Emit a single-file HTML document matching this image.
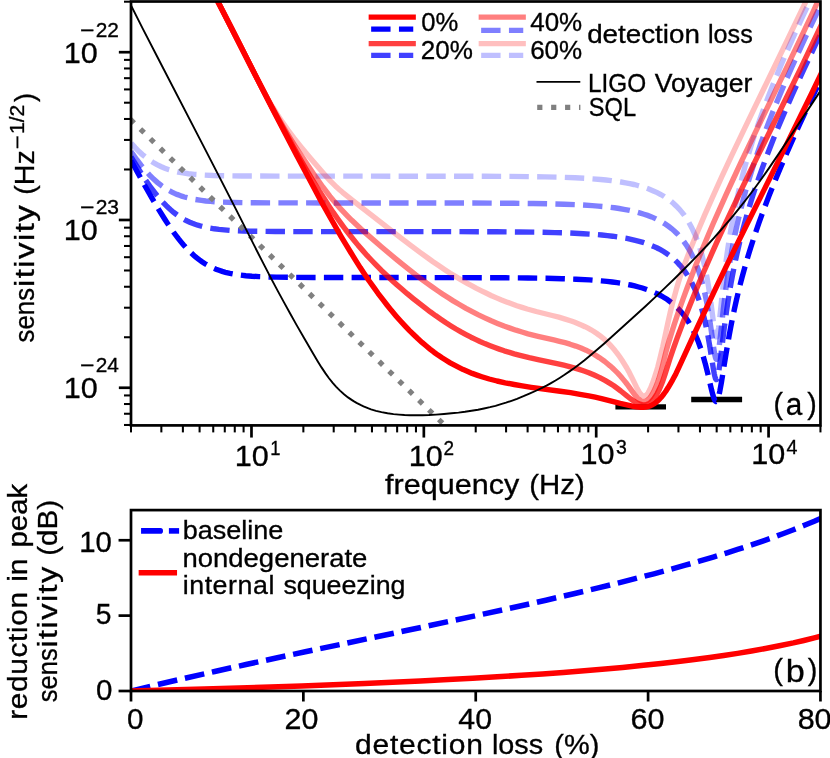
<!DOCTYPE html>
<html><head><meta charset="utf-8"><title>figure</title>
<style>
html,body{margin:0;padding:0;background:#fff;}
body{width:830px;height:758px;overflow:hidden;font-family:"Liberation Sans",sans-serif;}
svg{display:block;will-change:transform;}
text{font-family:"Liberation Sans",sans-serif;fill:#000;stroke:#000;stroke-width:0.32px;}
</style></head><body>
<svg width="830" height="758" viewBox="0 0 830 758">
<rect x="0" y="0" width="830" height="758" fill="#ffffff"/>
<defs><clipPath id="ca"><rect x="131.00" y="1.50" width="689.45" height="423.90"/></clipPath>
<clipPath id="cb"><rect x="131.00" y="510.10" width="689.45" height="180.90"/></clipPath></defs>
<g clip-path="url(#ca)" fill="none">
<path d="M615.4,406.9 H666" stroke="#000" stroke-width="5.4"/>
<path d="M691.2,399.5 H742.1" stroke="#000" stroke-width="5.6"/>
<path id="b0" d="M128,154.6 137.2,171.7 145.2,186.3 152.4,198.9 158.8,209.7 164.8,219.3 167.8,223.9 170.6,228 173.4,232 176,235.5 178.6,238.9 181.2,242.1 183.8,245.2 186.4,248.1 189,250.8 191.6,253.3 194.2,255.7 196.8,257.9 199.4,259.9 202,261.8 204.6,263.5 207.4,265.1 210.2,266.6 213,267.9 216,269.2 219,270.3 222.2,271.4 225.4,272.3 230,273.3 234.8,274.2 240,275 245.8,275.7 252,276.2 259,276.6 267,276.9 276.2,277.1 292,277.3 313.6,277.5 451.2,277.6 505.8,277.8 528,278 546.4,278.3 562.2,278.7 576,279.2 589.4,279.9 601.4,280.9 607,281.4 612.2,282 617.2,282.7 621.8,283.4 626.4,284.2 630.6,285 634.6,285.9 638.6,287 642.4,288 646,289.2 649.4,290.4 652.8,291.8 655.8,293.1 658.8,294.5 661.6,296 664.4,297.7 667,299.3 669.6,301.2 672,303 674.4,305.1 676.6,307.1 678.8,309.3 681,311.7 683,314.1 685,316.7 686.8,319.3 688.6,322 690.4,325 691.8,327.5 693.2,330.2 694.6,333.1 696,336.2 698.4,342 700.8,348.7 703.2,356.2 705.6,364.9 707.8,373.7 711.6,390 713,395.4 714,398.4 714.8,400.2 715.2,400.8 715.6,401.2 716,401.4 716.2,401.3 716.6,401.1 717,400.7 717.4,400 718,398.5 718.8,395.8 719.8,391.3 721.4,382.5 726.2,352.7 729.2,335.4 730.8,326.8 732.6,317.7 734.4,309.1 736.4,300.2 738.2,292.5 740,285.2 742,277.5 744,270.2 746.2,262.4 748.4,255 750.8,247.2 753.2,239.8 756,231.4 759,222.7 762.2,213.8 765.6,204.7 769.2,195.3 773,185.8 776.8,176.4 781,166.4 785.2,156.6 789.8,146.1 794.6,135.4 799.8,123.9 810.8,100.3 823.4,74" stroke="#0000ff" stroke-opacity="1.00" stroke-width="5.40" stroke-dasharray="19.40 8.30" stroke-dashoffset="-6.60"/>
<path id="b20" d="M128,151.6 134,161.8 139.6,170.8 144.8,178.8 149.8,186 154.6,192.4 157,195.5 159.2,198.1 161.6,200.8 163.8,203.2 166.2,205.7 168.4,207.8 170.6,209.8 173,211.8 175.2,213.5 177.6,215.3 180,216.9 182.4,218.4 184.8,219.8 187.2,221 189.8,222.2 192.4,223.3 195,224.3 197.8,225.2 200.6,226 203.6,226.8 206.6,227.5 209.8,228.1 214.2,228.8 219,229.4 224.2,229.9 229.8,230.4 236,230.7 242.8,231 250.6,231.2 259.6,231.3 275.2,231.5 296.6,231.6 439.6,231.6 496.4,231.8 519.4,232 538.4,232.2 554.8,232.6 569,233 583.4,233.7 596,234.5 601.8,235 607.4,235.6 612.6,236.2 617.6,236.9 622.4,237.7 626.8,238.4 631,239.3 635.2,240.3 639.2,241.3 643,242.4 646.6,243.6 650,244.9 653.6,246.4 657.2,248 660.4,249.7 663.6,251.5 666.6,253.5 669.6,255.6 672.4,257.8 675,260.1 677.6,262.7 680,265.3 682.4,268.1 684.6,271 686.8,274.2 688.8,277.4 690.8,280.9 692.6,284.4 694.2,287.8 695.8,291.5 697.2,295.1 698.6,298.9 700,303.1 701.4,307.6 702.6,311.9 703.8,316.5 705,321.5 706,326.1 707.2,331.9 708.2,337.2 710,347.7 713.2,367.9 714.2,373.5 714.8,376.2 715.4,378.3 715.8,379.1 716,379.4 716.2,379.6 716.4,379.6 716.6,379.5 716.8,379.3 717,379 717.6,377.4 718.2,374.8 718.8,371.3 720.2,361.1 724.2,328.3 726.4,312 727.8,302.6 729.4,292.6 731,283.3 732.6,274.7 734.4,265.6 736.2,257.1 738.2,248.3 740.2,239.9 742.4,231.3 744.6,223.1 747,214.6 749.6,205.9 752.6,196.3 755.6,187.1 758.8,177.8 762.2,168.3 765.8,158.6 769.6,148.7 773.6,138.6 778,127.8 782.6,116.9 787.4,105.8 792.4,94.5 797.8,82.5 803.6,69.9 809.8,56.6 816.4,42.7 823.4,28.2" stroke="#0000ff" stroke-opacity="0.75" stroke-width="5.40" stroke-dasharray="19.40 8.30" stroke-dashoffset="-6.00"/>
<path id="b40" d="M128,147 132.6,153.9 137,160 141.2,165.5 145.4,170.5 149.6,175.1 153.6,179.1 157.6,182.6 159.6,184.2 161.8,185.9 163.8,187.3 166,188.7 168,190 170.2,191.2 172.4,192.3 174.6,193.4 177,194.4 179.4,195.3 181.8,196.2 184.4,197 189.6,198.3 195.2,199.5 201.4,200.4 205.8,201 210.4,201.4 215.4,201.8 221,202.1 233.8,202.5 250,202.8 286.4,202.9 432.4,203 490.2,203.1 513.8,203.3 533.2,203.5 549.8,203.8 564.2,204.2 579.2,204.8 592.2,205.6 598.2,206.1 604,206.6 609.4,207.2 614.4,207.8 619.2,208.5 623.8,209.3 628.2,210.1 632.4,211 636.4,212 640.4,213.1 644,214.2 647.6,215.4 651.6,216.9 655.4,218.6 659,220.4 662.4,222.2 665.6,224.2 668.8,226.5 671.8,228.8 674.6,231.2 677.2,233.7 679.8,236.5 682.2,239.4 684.6,242.6 686.8,245.8 689,249.4 691,253 693,256.9 694.8,260.9 696.4,264.8 698,269.1 699.4,273.2 700.8,277.7 702.2,282.6 703.4,287.2 704.6,292.3 705.8,297.8 706.8,302.8 708.8,314.1 710.6,325.9 713.6,347.4 714.6,353.7 715.2,356.6 715.6,358 716,358.9 716.2,359.2 716.4,359.3 716.6,359.3 716.8,359.1 717,358.7 717.4,357.6 718,354.8 718.6,351.1 719.8,341.4 723.4,308.7 725.6,290.9 727,280.7 728.4,271.3 730,261.3 731.6,252.1 733.2,243.6 735,234.6 737,225.3 739,216.6 741.2,207.6 743.4,199.1 745.8,190.4 748.4,181.4 751.4,171.6 754.4,162.2 757.8,152.1 761.2,142.5 764.8,132.7 768.8,122.1 772.8,112 777.2,101.2 781.8,90.2 786.6,79 791.8,67.2 797.4,54.8 803.2,42.1 809.6,28.4 816.2,14.5 823.4,-0.4" stroke="#0000ff" stroke-opacity="0.50" stroke-width="5.40" stroke-dasharray="19.40 8.30" stroke-dashoffset="-5.35"/>
<path id="b60" d="M128,139.4 131.6,143.7 135.2,147.6 138.8,151.3 142.4,154.6 146,157.5 149.6,160.2 153.2,162.5 157,164.7 160.8,166.5 164.8,168.2 169,169.7 173.4,170.9 178,172 183,172.9 188.4,173.7 194.4,174.4 203.2,175 213.4,175.5 225.8,175.8 241.4,176 276.8,176.1 425.6,176.2 484.6,176.3 508.6,176.4 528.4,176.6 545.2,176.9 559.8,177.2 575.2,177.8 588.6,178.5 600.6,179.5 606,180 611.2,180.6 616.2,181.3 621,182 625.6,182.8 629.8,183.6 633.8,184.5 637.8,185.5 641.6,186.6 645.2,187.7 649.4,189.2 653.4,190.9 657.2,192.6 660.8,194.5 664.2,196.5 667.6,198.8 670.6,201 673.6,203.5 676.4,206.2 679.2,209.1 681.8,212.1 684.2,215.2 686.6,218.7 688.8,222.3 690.8,225.9 692.8,229.8 694.6,233.8 696.2,237.6 697.8,241.9 699.2,246 700.6,250.4 702,255.3 703.4,260.8 704.6,265.9 705.8,271.5 706.8,276.6 708,283.4 709,289.5 710.6,300.4 713.8,324.9 714.8,331.5 715.4,334.5 715.8,335.9 716.2,336.6 716.4,336.8 716.6,336.8 716.8,336.6 717,336.2 717.2,335.7 717.6,334.1 718,332 718.6,327.8 719.6,319.3 723,286.7 725,269.6 726.4,258.8 727.8,248.9 729.2,239.8 730.8,230.2 732.4,221.2 734.2,211.9 736.2,202.3 738.2,193.3 740.4,184.1 742.8,174.7 745.2,165.8 747.8,156.7 750.8,146.7 753.8,137.3 757,127.7 760.6,117.4 764.2,107.5 768.2,96.9 772.2,86.7 776.6,75.8 781.2,64.8 786.2,53.1 791.4,41.3 797,28.8 802.8,16.2 809.2,2.5 816,-11.9 823.4,-27.3" stroke="#0000ff" stroke-opacity="0.25" stroke-width="5.40" stroke-dasharray="19.40 8.30" stroke-dashoffset="-4.90"/>
<path d="M120.49,109.70 L470.00,449.92" stroke="#808080" stroke-width="5.2" stroke-dasharray="5.2 8.68"/>
<path id="r0" d="M216,-2 231.8,28.7 273.2,110.2 285.8,134.5 297,156.1 309.8,180.1 321.2,201.4 331.5,219.8 341,236.3 346,244.7 350.8,252.5 355.5,260.2 360.2,267.6 364.8,274.4 369.2,281 373.8,287.4 378,293.3 382.5,299.2 387,305 391.5,310.6 396,315.9 400.5,321 405,325.9 409.5,330.6 413.8,334.8 418,338.8 422,342.4 426,345.8 430,349.1 434,352.2 438,355.1 442,357.8 446,360.3 450.2,362.9 454.5,365.2 458.8,367.4 463.2,369.6 467.8,371.5 472.2,373.4 477,375.1 481.8,376.7 489.2,379 497,381 505.2,382.8 514.2,384.5 522.2,385.9 531.2,387.3 560.2,391.2 570.5,392.7 580,394.3 588.8,395.9 595.2,397.2 601.5,398.6 620.2,403.4 626.8,404.9 633.5,406.3 636,406.8 638.2,407.1 640.8,407.3 643.2,407.3 645.5,407.1 647.8,406.6 649.8,406 651.8,405.1 653.8,404 655.8,402.6 657.8,400.8 659.8,398.8 661.8,396.6 663.8,394 665.8,391.2 668,387.8 670.2,384.1 672.5,380.1 675.8,373.9 679,367.2 694.5,333.4 703.5,314.1 714.5,290.8 726.5,265.9 736.5,245.4 747.8,222.6 784.8,148.1 798.5,120.3 812,92.7 824.2,67.3" stroke="#ff0000" stroke-opacity="1.00" stroke-width="5.40" stroke-linejoin="round"/>
<path id="r20" d="M216,-2.1 257.2,78.9 268,99.7 277.8,118.2 288,137.2 297.8,154.7 307,170.8 311.5,178.3 315.8,185.3 320.2,192.6 324.8,199.6 329,206.1 333.2,212.4 337.5,218.5 341.5,224.1 345.5,229.5 349.8,235 354,240.3 358.2,245.4 362.8,250.6 367.2,255.7 371.8,260.5 376.5,265.4 381.2,270.2 386,274.8 391,279.5 396.2,284.2 401.5,288.8 407.2,293.7 413.2,298.6 419,303.2 424.8,307.7 430.2,311.8 435.5,315.6 440.8,319.2 446,322.7 451,325.9 456,329 461,331.9 466,334.6 471,337.2 475.5,339.4 480,341.5 484.8,343.6 489.5,345.5 494.2,347.3 499.2,349.1 504.2,350.8 509.5,352.4 514.2,353.8 519,355.1 529.2,357.7 538,359.7 558.2,363.9 563.8,365.2 568.5,366.3 574,367.8 579.2,369.4 584,371 588.8,372.7 594.2,375 599.8,377.6 605,380.4 610,383.4 613.8,385.8 617.2,388.3 620.8,391 627.2,396.2 630,398.3 633,400.5 635.5,402.1 637.8,403.3 640,404.2 642,404.7 643.8,404.9 644.8,404.9 645.8,404.8 646.8,404.5 647.8,404.1 648.8,403.6 649.8,403 650.8,402.2 651.5,401.5 652.5,400.5 653.5,399.3 655.2,396.9 656.2,395.3 657.2,393.6 659,390.1 661,385.5 662.8,380.9 665,374.3 670,358.5 673,349.6 677.2,337.8 683.2,322 689.8,305.5 696.8,288.3 704,271.3 711.5,254.2 718.2,239.2 725.5,223.4 733.5,206.3 742.2,187.9 758.5,154.4 788.8,92.7 800.8,68.1 813.2,42.1 824.2,18.8" stroke="#ff0000" stroke-opacity="0.75" stroke-width="5.40" stroke-linejoin="round"/>
<path id="r40" d="M216,-1.9 221.2,8 227.2,19.6 253.8,72.1 260,84.3 265.8,95.3 272.2,107.4 278.2,118.1 284,128 290.2,138.3 294.5,145.1 299,152.1 303.8,159.3 308.8,166.8 314.5,175.2 319,181.6 323,187.2 326.8,192.2 330,196.4 333.2,200.3 336.8,204.4 340.2,208.4 344,212.4 347.8,216.3 351.8,220.3 356,224.3 361,229 366.8,234.1 382.2,247.5 397,259.9 403.5,265.2 409.8,270.2 415.5,274.7 421,278.8 426.5,282.9 432,286.8 437.5,290.6 442.8,294.2 448,297.6 453.2,300.9 459.8,304.8 466,308.4 472.2,311.7 478.5,314.9 484.8,317.9 491.2,320.8 497.5,323.4 504,326 510,328.1 516,330.2 522,332 528,333.8 533,335.1 538,336.3 553.8,339.9 559.5,341.3 565,342.7 570,344.2 575.8,346.1 581,348.1 586,350.2 590.8,352.6 593.8,354.2 596.5,355.9 599.2,357.6 602,359.5 604.8,361.5 607.2,363.5 610,365.8 612.5,368 615.2,370.6 618,373.4 620.8,376.5 623.2,379.4 625.8,382.5 628,385.4 634.8,394.9 636,396.4 637.2,397.9 639,399.6 640.5,400.6 641.5,401.1 642.2,401.4 643,401.5 643.8,401.6 644.8,401.4 645.5,401.2 646.2,400.9 647,400.5 648,399.8 648.8,399.1 650.2,397.4 651.2,396 652,394.8 653.5,392.1 655,389 656.5,385.3 657.8,381.9 658.8,379 660.8,372.4 662.5,365.9 666.2,350.9 668,344.6 669.8,338.6 671.8,332.1 674,325.1 676.5,317.6 679.2,309.7 683,299.2 687,288.3 691,277.7 695.2,266.7 699.5,256.1 703.8,245.8 708.5,234.5 713.2,223.5 719.5,209.3 726.2,194.3 733.5,178.5 741.2,161.9 756.8,129.4 787,66.8 799.5,40.7 812.5,13.1 824.2,-12.6" stroke="#ff0000" stroke-opacity="0.50" stroke-width="5.40" stroke-linejoin="round"/>
<path id="r60" d="M216,-1.6 221.8,8.9 228.2,21.4 234.8,34.3 251,67 255.5,75.9 259.8,84 264.2,92.4 268.5,100 272.5,106.8 276.8,113.6 282.2,121.9 288,130.1 294,138.1 300.8,146.6 305,151.8 310,157.7 324.5,174.5 328,178.4 331,181.6 333.8,184.4 336.5,187.1 339.2,189.5 342.5,192.3 353.2,200.8 400.8,237.8 411,245.6 420,252.3 426.8,257.2 433,261.7 439,265.8 444.8,269.7 450.2,273.2 455.8,276.6 461.2,279.9 466.8,283.1 471.5,285.7 476.5,288.4 481.5,290.9 486.5,293.3 491.5,295.7 496.5,297.9 501.5,300 506.5,301.9 511.5,303.8 516.8,305.7 522,307.4 527.2,309 536.2,311.5 552.2,315.5 558.8,317.2 565.2,319.1 571.2,321 574.8,322.3 578.2,323.7 581.8,325.2 585,326.7 588,328.2 591,329.8 593.8,331.5 596.5,333.3 599.2,335.2 602,337.4 604.8,339.7 607.2,342 609.8,344.6 612.2,347.3 614.8,350.3 617,353.1 619.5,356.5 622,360.2 624.5,364.2 626.8,368 628.8,371.6 630.5,374.9 632.5,378.9 636.5,387.2 637.8,389.6 639,391.7 640.5,393.9 641.8,395.2 642.5,395.7 643,396 643.8,396.2 644.2,396.2 644.8,396.1 645.5,395.7 646,395.4 646.8,394.6 648,393 649.2,390.8 650.5,388.2 652,384.6 653.8,379.8 655.2,375.4 656.5,371.3 657.8,367 660.2,357.4 662.8,346.6 668,322.4 670.2,312.5 673.2,300.4 674.8,294.9 676.5,288.7 678.2,282.9 680.2,276.7 682.2,270.8 684.5,264.5 686.8,258.5 689.2,252.1 696.5,234.3 704.5,215.4 712.8,196.6 721.8,176.7 731.5,155.8 744.5,128.6 789.2,36.2 824.2,-36.5" stroke="#ff0000" stroke-opacity="0.25" stroke-width="5.40" stroke-linejoin="round"/>
<path d="M130,3.5 143,29.1 157,56.3 203.5,146.1 220.5,179.1 236.5,210.4 260.5,257.9 272,280.1 278,291.4 284,302.4 290,313.3 296.5,324.9 304.5,338.8 312.5,352.6 317.5,361 321.5,367.4 325.5,373.4 329,378.3 332.5,382.7 336,386.6 338,388.7 340,390.6 344,394.2 348,397.4 352,400.1 354,401.4 356.5,402.9 361,405.2 363.5,406.4 366,407.4 368.5,408.4 371,409.3 376,410.8 381.5,412.1 387.5,413.2 393.5,414.1 399,414.6 404.5,415 410,415.2 416,415.3 422.5,415.2 429,415 436,414.6 444,414 451.5,413.3 458.5,412.6 465,411.8 471.5,410.8 478,409.7 484,408.5 490,407.2 495.5,405.8 501,404.2 506,402.7 511.5,400.8 517,398.8 523.5,396.2 530,393.4 536.5,390.5 542,387.9 546.5,385.6 551,383.1 555.5,380.5 560,377.7 564.5,374.8 569.5,371.4 574,368.2 579,364.4 584.5,360.2 590.5,355.3 597,349.8 604,343.7 614,334.8 645.5,306.2 655.5,296.9 666,286.9 675.5,277.7 684,269.3 692,261.2 699.5,253.4 707,245.5 714,237.8 720.5,230.5 726,224.2 731,218.3 736.5,211.6 741.5,205.4 746.5,199 751.5,192.5 756.5,185.8 761,179.5 769,168.1 778.5,154.1 814.5,99.9 823,87" stroke="#000" stroke-width="1.9"/>
</g>
<g clip-path="url(#cb)" fill="none">
<path d="M131,691 155.4,685.1 183.3,678.6 214.7,671.5 246,664.5 273.9,658.5 305.3,651.8 409.9,629.8 448.2,621.6 483.1,614.1 514.5,607.3 545.9,600.2 573.8,593.7 598.2,587.9 622.6,581.9 640,577.4 653.9,573.8 671.4,569.1 685.3,565.2 699.3,561.2 713.2,557.1 727.1,552.8 737.6,549.4 751.5,544.9 762,541.3 772.5,537.6 782.9,533.7 793.4,529.7 803.8,525.5 814.3,521.2 824.8,516.6" stroke="#0000ff" stroke-width="5.5" stroke-dasharray="19.8 7.9"/>
<path d="M131,691 204.2,689 270.4,687 301.8,685.9 333.2,684.7 364.6,683.5 392.5,682.3 420.4,681 448.2,679.6 472.7,678.3 497.1,676.8 521.5,675.3 542.4,673.9 563.3,672.4 584.2,670.7 605.1,669 622.6,667.4 643.5,665.3 660.9,663.5 678.3,661.5 692.3,659.8 709.7,657.5 723.7,655.5 737.6,653.4 751.5,651 765.5,648.5 779.4,645.8 793.4,642.9 803.8,640.5 814.3,637.9 824.8,635.1" stroke="#ff0000" stroke-width="5.5"/>
</g>
<rect x="131.00" y="1.50" width="689.45" height="423.90" fill="none" stroke="#000" stroke-width="2.70"/>
<rect x="131.00" y="510.10" width="689.45" height="180.90" fill="none" stroke="#000" stroke-width="2.70"/>
<line x1="131.00" y1="425.40" x2="131.00" y2="432.40" stroke="#000" stroke-width="2.05"/>
<line x1="161.35" y1="425.40" x2="161.35" y2="432.40" stroke="#000" stroke-width="2.05"/>
<line x1="182.89" y1="425.40" x2="182.89" y2="432.40" stroke="#000" stroke-width="2.05"/>
<line x1="199.59" y1="425.40" x2="199.59" y2="432.40" stroke="#000" stroke-width="2.05"/>
<line x1="213.24" y1="425.40" x2="213.24" y2="432.40" stroke="#000" stroke-width="2.05"/>
<line x1="224.78" y1="425.40" x2="224.78" y2="432.40" stroke="#000" stroke-width="2.05"/>
<line x1="234.77" y1="425.40" x2="234.77" y2="432.40" stroke="#000" stroke-width="2.05"/>
<line x1="243.59" y1="425.40" x2="243.59" y2="432.40" stroke="#000" stroke-width="2.05"/>
<line x1="251.48" y1="425.40" x2="251.48" y2="437.55" stroke="#000" stroke-width="2.70"/>
<line x1="303.36" y1="425.40" x2="303.36" y2="432.40" stroke="#000" stroke-width="2.05"/>
<line x1="333.71" y1="425.40" x2="333.71" y2="432.40" stroke="#000" stroke-width="2.05"/>
<line x1="355.25" y1="425.40" x2="355.25" y2="432.40" stroke="#000" stroke-width="2.05"/>
<line x1="371.95" y1="425.40" x2="371.95" y2="432.40" stroke="#000" stroke-width="2.05"/>
<line x1="385.60" y1="425.40" x2="385.60" y2="432.40" stroke="#000" stroke-width="2.05"/>
<line x1="397.14" y1="425.40" x2="397.14" y2="432.40" stroke="#000" stroke-width="2.05"/>
<line x1="407.14" y1="425.40" x2="407.14" y2="432.40" stroke="#000" stroke-width="2.05"/>
<line x1="415.95" y1="425.40" x2="415.95" y2="432.40" stroke="#000" stroke-width="2.05"/>
<line x1="423.84" y1="425.40" x2="423.84" y2="437.55" stroke="#000" stroke-width="2.70"/>
<line x1="475.73" y1="425.40" x2="475.73" y2="432.40" stroke="#000" stroke-width="2.05"/>
<line x1="506.08" y1="425.40" x2="506.08" y2="432.40" stroke="#000" stroke-width="2.05"/>
<line x1="527.61" y1="425.40" x2="527.61" y2="432.40" stroke="#000" stroke-width="2.05"/>
<line x1="544.31" y1="425.40" x2="544.31" y2="432.40" stroke="#000" stroke-width="2.05"/>
<line x1="557.96" y1="425.40" x2="557.96" y2="432.40" stroke="#000" stroke-width="2.05"/>
<line x1="569.50" y1="425.40" x2="569.50" y2="432.40" stroke="#000" stroke-width="2.05"/>
<line x1="579.50" y1="425.40" x2="579.50" y2="432.40" stroke="#000" stroke-width="2.05"/>
<line x1="588.31" y1="425.40" x2="588.31" y2="432.40" stroke="#000" stroke-width="2.05"/>
<line x1="596.20" y1="425.40" x2="596.20" y2="437.55" stroke="#000" stroke-width="2.70"/>
<line x1="648.09" y1="425.40" x2="648.09" y2="432.40" stroke="#000" stroke-width="2.05"/>
<line x1="678.44" y1="425.40" x2="678.44" y2="432.40" stroke="#000" stroke-width="2.05"/>
<line x1="699.97" y1="425.40" x2="699.97" y2="432.40" stroke="#000" stroke-width="2.05"/>
<line x1="716.68" y1="425.40" x2="716.68" y2="432.40" stroke="#000" stroke-width="2.05"/>
<line x1="730.33" y1="425.40" x2="730.33" y2="432.40" stroke="#000" stroke-width="2.05"/>
<line x1="741.86" y1="425.40" x2="741.86" y2="432.40" stroke="#000" stroke-width="2.05"/>
<line x1="751.86" y1="425.40" x2="751.86" y2="432.40" stroke="#000" stroke-width="2.05"/>
<line x1="760.68" y1="425.40" x2="760.68" y2="432.40" stroke="#000" stroke-width="2.05"/>
<line x1="768.56" y1="425.40" x2="768.56" y2="437.55" stroke="#000" stroke-width="2.70"/>
<line x1="820.45" y1="425.40" x2="820.45" y2="432.40" stroke="#000" stroke-width="2.05"/>
<line x1="131.00" y1="424.98" x2="124.00" y2="424.98" stroke="#000" stroke-width="2.05"/>
<line x1="131.00" y1="413.75" x2="124.00" y2="413.75" stroke="#000" stroke-width="2.05"/>
<line x1="131.00" y1="404.02" x2="124.00" y2="404.02" stroke="#000" stroke-width="2.05"/>
<line x1="131.00" y1="395.44" x2="124.00" y2="395.44" stroke="#000" stroke-width="2.05"/>
<line x1="131.00" y1="387.76" x2="118.85" y2="387.76" stroke="#000" stroke-width="2.70"/>
<line x1="131.00" y1="337.25" x2="124.00" y2="337.25" stroke="#000" stroke-width="2.05"/>
<line x1="131.00" y1="307.71" x2="124.00" y2="307.71" stroke="#000" stroke-width="2.05"/>
<line x1="131.00" y1="286.75" x2="124.00" y2="286.75" stroke="#000" stroke-width="2.05"/>
<line x1="131.00" y1="270.49" x2="124.00" y2="270.49" stroke="#000" stroke-width="2.05"/>
<line x1="131.00" y1="257.20" x2="124.00" y2="257.20" stroke="#000" stroke-width="2.05"/>
<line x1="131.00" y1="245.97" x2="124.00" y2="245.97" stroke="#000" stroke-width="2.05"/>
<line x1="131.00" y1="236.24" x2="124.00" y2="236.24" stroke="#000" stroke-width="2.05"/>
<line x1="131.00" y1="227.66" x2="124.00" y2="227.66" stroke="#000" stroke-width="2.05"/>
<line x1="131.00" y1="219.98" x2="118.85" y2="219.98" stroke="#000" stroke-width="2.70"/>
<line x1="131.00" y1="169.47" x2="124.00" y2="169.47" stroke="#000" stroke-width="2.05"/>
<line x1="131.00" y1="139.93" x2="124.00" y2="139.93" stroke="#000" stroke-width="2.05"/>
<line x1="131.00" y1="118.97" x2="124.00" y2="118.97" stroke="#000" stroke-width="2.05"/>
<line x1="131.00" y1="102.71" x2="124.00" y2="102.71" stroke="#000" stroke-width="2.05"/>
<line x1="131.00" y1="89.42" x2="124.00" y2="89.42" stroke="#000" stroke-width="2.05"/>
<line x1="131.00" y1="78.19" x2="124.00" y2="78.19" stroke="#000" stroke-width="2.05"/>
<line x1="131.00" y1="68.46" x2="124.00" y2="68.46" stroke="#000" stroke-width="2.05"/>
<line x1="131.00" y1="59.88" x2="124.00" y2="59.88" stroke="#000" stroke-width="2.05"/>
<line x1="131.00" y1="52.20" x2="118.85" y2="52.20" stroke="#000" stroke-width="2.70"/>
<line x1="131.00" y1="1.69" x2="124.00" y2="1.69" stroke="#000" stroke-width="2.05"/>
<line x1="131.00" y1="691.00" x2="131.00" y2="701.50" stroke="#000" stroke-width="2.70"/>
<line x1="303.36" y1="691.00" x2="303.36" y2="701.50" stroke="#000" stroke-width="2.70"/>
<line x1="475.73" y1="691.00" x2="475.73" y2="701.50" stroke="#000" stroke-width="2.70"/>
<line x1="648.09" y1="691.00" x2="648.09" y2="701.50" stroke="#000" stroke-width="2.70"/>
<line x1="820.45" y1="691.00" x2="820.45" y2="701.50" stroke="#000" stroke-width="2.70"/>
<line x1="131.00" y1="691.00" x2="118.55" y2="691.00" stroke="#000" stroke-width="2.70"/>
<line x1="131.00" y1="615.62" x2="118.55" y2="615.62" stroke="#000" stroke-width="2.70"/>
<line x1="131.00" y1="540.25" x2="118.55" y2="540.25" stroke="#000" stroke-width="2.70"/>
<text><tspan x="234.72" y="465.60" font-size="29.00" textLength="34.03" lengthAdjust="spacingAndGlyphs">10</tspan><tspan x="270.31" y="455.00" font-size="19.80" textLength="10.23" lengthAdjust="spacingAndGlyphs">1</tspan></text>
<text><tspan x="408.65" y="466.00" font-size="29.00" textLength="34.03" lengthAdjust="spacingAndGlyphs">10</tspan><tspan x="443.45" y="455.20" font-size="19.80" textLength="10.56" lengthAdjust="spacingAndGlyphs">2</tspan></text>
<text><tspan x="580.55" y="464.10" font-size="29.00" textLength="34.03" lengthAdjust="spacingAndGlyphs">10</tspan><tspan x="616.10" y="453.70" font-size="19.80" textLength="10.85" lengthAdjust="spacingAndGlyphs">3</tspan></text>
<text><tspan x="751.25" y="464.10" font-size="29.00" textLength="34.03" lengthAdjust="spacingAndGlyphs">10</tspan><tspan x="786.45" y="453.70" font-size="19.80" textLength="10.96" lengthAdjust="spacingAndGlyphs">4</tspan></text>
<text><tspan x="63.75" y="63.00" font-size="29.00" textLength="34.03" lengthAdjust="spacingAndGlyphs">10</tspan><tspan x="80.10" y="36.80" font-size="19.80" textLength="14.45" lengthAdjust="spacingAndGlyphs">&#8722;</tspan><tspan x="95.65" y="36.80" font-size="19.80" textLength="23.20" lengthAdjust="spacingAndGlyphs">22</tspan></text>
<text><tspan x="63.75" y="240.40" font-size="29.00" textLength="34.03" lengthAdjust="spacingAndGlyphs">10</tspan><tspan x="80.10" y="214.20" font-size="19.80" textLength="14.45" lengthAdjust="spacingAndGlyphs">&#8722;</tspan><tspan x="95.65" y="214.20" font-size="19.80" textLength="23.36" lengthAdjust="spacingAndGlyphs">23</tspan></text>
<text><tspan x="63.75" y="398.00" font-size="29.00" textLength="34.03" lengthAdjust="spacingAndGlyphs">10</tspan><tspan x="80.10" y="371.80" font-size="19.80" textLength="14.45" lengthAdjust="spacingAndGlyphs">&#8722;</tspan><tspan x="95.65" y="371.80" font-size="19.80" textLength="23.13" lengthAdjust="spacingAndGlyphs">24</tspan></text>
<text><tspan x="385.05" y="494.00" font-size="28.20" textLength="134.25" lengthAdjust="spacingAndGlyphs">frequency</tspan> <tspan x="529.25" y="494.00" font-size="28.20" textLength="55.47" lengthAdjust="spacingAndGlyphs">(Hz)</tspan></text>
<text transform="translate(34.2,341.9) rotate(-90) scale(1.1700,1)"><tspan x="-0.43" y="0.00" font-size="28.20" textLength="46.52" lengthAdjust="spacingAndGlyphs">sens</tspan><tspan x="46.84" y="0.00" font-size="28.20" textLength="69.93" lengthAdjust="spacing">itivity</tspan> <tspan x="125.73" y="0.00" font-size="28.20" textLength="38.10" lengthAdjust="spacingAndGlyphs">(Hz</tspan><tspan x="164.62" y="-10.40" font-size="19.80" textLength="11.96" lengthAdjust="spacingAndGlyphs">&#8722;</tspan><tspan x="177.69" y="-10.40" font-size="19.80" textLength="25.11" lengthAdjust="spacingAndGlyphs">1/2</tspan><tspan x="204.96" y="0.00" font-size="28.20" textLength="7.63" lengthAdjust="spacingAndGlyphs">)</tspan></text>
<text><tspan x="773.40" y="413.70" font-size="28.80" textLength="9.48" lengthAdjust="spacingAndGlyphs">(</tspan><tspan x="785.80" y="415.30" font-size="31.00" textLength="16.56" lengthAdjust="spacingAndGlyphs">a</tspan><tspan x="807.20" y="413.70" font-size="28.80" textLength="9.48" lengthAdjust="spacingAndGlyphs">)</tspan></text>
<text><tspan x="773.15" y="679.90" font-size="29.20" textLength="9.73" lengthAdjust="spacingAndGlyphs">(</tspan><tspan x="785.70" y="682.00" font-size="31.00" textLength="19.01" lengthAdjust="spacingAndGlyphs">b</tspan><tspan x="807.70" y="679.90" font-size="29.20" textLength="9.62" lengthAdjust="spacingAndGlyphs">)</tspan></text>
<text><tspan x="79.30" y="551.80" font-size="29.00" textLength="32.65" lengthAdjust="spacingAndGlyphs">10</tspan></text>
<text><tspan x="95.80" y="624.00" font-size="29.00" textLength="15.68" lengthAdjust="spacingAndGlyphs">5</tspan></text>
<text><tspan x="96.00" y="699.90" font-size="29.00" textLength="16.42" lengthAdjust="spacingAndGlyphs">0</tspan></text>
<text><tspan x="127.05" y="729.40" font-size="29.00" textLength="16.48" lengthAdjust="spacingAndGlyphs">0</tspan></text>
<text><tspan x="284.55" y="729.40" font-size="29.00" textLength="33.88" lengthAdjust="spacingAndGlyphs">20</tspan></text>
<text><tspan x="458.30" y="729.40" font-size="29.00" textLength="33.68" lengthAdjust="spacingAndGlyphs">40</tspan></text>
<text><tspan x="630.60" y="729.40" font-size="29.00" textLength="34.04" lengthAdjust="spacingAndGlyphs">60</tspan></text>
<text><tspan x="797.65" y="729.40" font-size="29.00" textLength="33.97" lengthAdjust="spacingAndGlyphs">80</tspan></text>
<text transform="scale(1.0650,1)"><tspan x="333.43" y="754.30" font-size="28.20" textLength="119.98" lengthAdjust="spacing">detection</tspan> <tspan x="461.92" y="754.30" font-size="28.20" textLength="48.12" lengthAdjust="spacingAndGlyphs">loss</tspan> <tspan x="520.52" y="754.30" font-size="28.20" textLength="42.18" lengthAdjust="spacingAndGlyphs">(%)</tspan></text>
<text transform="translate(27.1,718.0) rotate(-90) scale(1.0570,1)"><tspan x="-1.66" y="0.00" font-size="28.20" textLength="120.88" lengthAdjust="spacing">reduction</tspan> <tspan x="128.81" y="0.00" font-size="28.20" textLength="22.28" lengthAdjust="spacingAndGlyphs">in</tspan> <tspan x="161.26" y="0.00" font-size="28.20" textLength="60.45" lengthAdjust="spacingAndGlyphs">peak</tspan></text>
<text transform="translate(56.6,701.7) rotate(-90) scale(1.1630,1)"><tspan x="-0.43" y="0.00" font-size="28.20" textLength="46.32" lengthAdjust="spacingAndGlyphs">sens</tspan><tspan x="46.60" y="0.00" font-size="28.20" textLength="69.62" lengthAdjust="spacing">itivity</tspan> <tspan x="125.41" y="0.00" font-size="28.20" textLength="48.11" lengthAdjust="spacingAndGlyphs">(dB)</tspan></text>
<line x1="368.65" y1="17.20" x2="415.85" y2="17.20" stroke="#ff0000" stroke-opacity="1.00" stroke-width="5.2"/>
<line x1="371.15" y1="29.05" x2="413.25" y2="29.05" stroke="#0000ff" stroke-opacity="1.00" stroke-width="5.2" stroke-dasharray="19.4 8.4"/>
<line x1="368.65" y1="43.65" x2="415.85" y2="43.65" stroke="#ff0000" stroke-opacity="0.75" stroke-width="5.2"/>
<line x1="371.15" y1="55.30" x2="413.25" y2="55.30" stroke="#0000ff" stroke-opacity="0.75" stroke-width="5.2" stroke-dasharray="19.4 8.4"/>
<line x1="478.65" y1="17.20" x2="525.85" y2="17.20" stroke="#ff0000" stroke-opacity="0.50" stroke-width="5.2"/>
<line x1="481.15" y1="30.40" x2="523.25" y2="30.40" stroke="#0000ff" stroke-opacity="0.50" stroke-width="5.2" stroke-dasharray="19.4 8.4"/>
<line x1="478.65" y1="43.65" x2="525.85" y2="43.65" stroke="#ff0000" stroke-opacity="0.25" stroke-width="5.2"/>
<line x1="481.15" y1="55.30" x2="523.25" y2="55.30" stroke="#0000ff" stroke-opacity="0.25" stroke-width="5.2" stroke-dasharray="19.4 8.4"/>
<text><tspan x="421.22" y="30.80" font-size="25.80" textLength="37.04" lengthAdjust="spacingAndGlyphs">0%</tspan></text>
<text><tspan x="420.85" y="59.10" font-size="25.80" textLength="52.22" lengthAdjust="spacingAndGlyphs">20%</tspan></text>
<text><tspan x="530.20" y="30.80" font-size="25.80" textLength="52.00" lengthAdjust="spacingAndGlyphs">40%</tspan></text>
<text><tspan x="530.15" y="59.10" font-size="25.80" textLength="52.06" lengthAdjust="spacingAndGlyphs">60%</tspan></text>
<text><tspan x="587.20" y="42.50" font-size="25.30" textLength="112.66" lengthAdjust="spacingAndGlyphs">detection</tspan> <tspan x="708.00" y="42.50" font-size="25.30" textLength="44.74" lengthAdjust="spacingAndGlyphs">loss</tspan></text>
<line x1="536.50" y1="81.90" x2="580.30" y2="81.90" stroke="#000" stroke-width="1.75"/>
<line x1="537.2" y1="107.3" x2="580.4" y2="107.3" stroke="#808080" stroke-width="5.2" stroke-dasharray="5.2 8.73"/>
<text><tspan x="588.05" y="92.00" font-size="25.30" textLength="58.13" lengthAdjust="spacingAndGlyphs">LIGO</tspan> <tspan x="654.80" y="92.00" font-size="25.30" textLength="97.55" lengthAdjust="spacingAndGlyphs">Voyager</tspan></text>
<text><tspan x="588.80" y="116.20" font-size="25.30" textLength="47.27" lengthAdjust="spacingAndGlyphs">SQL</tspan></text>
<path d="M141.05,528.1 H160.5 Q163.0,528.1 163.0,530.9 Q163.0,533.7 160.5,533.7 H141.05 Z" fill="#0000ff"/>
<rect x="168.9" y="528.1" width="10.2" height="5.6" fill="#0000ff"/>
<line x1="138.65" y1="572.80" x2="177.05" y2="572.80" stroke="#ff0000" stroke-width="5.50"/>
<text><tspan x="182.70" y="538.50" font-size="25.30" textLength="100.71" lengthAdjust="spacingAndGlyphs">baseline</tspan></text>
<text><tspan x="182.45" y="566.90" font-size="25.30" textLength="184.93" lengthAdjust="spacingAndGlyphs">nondegenerate</tspan></text>
<text transform="scale(1.0590,1)"><tspan x="172.52" y="594.40" font-size="25.30" textLength="86.59" lengthAdjust="spacing">internal</tspan> <tspan x="267.61" y="594.40" font-size="25.30" textLength="115.30" lengthAdjust="spacingAndGlyphs">squeezing</tspan></text>
</svg>
</body></html>
